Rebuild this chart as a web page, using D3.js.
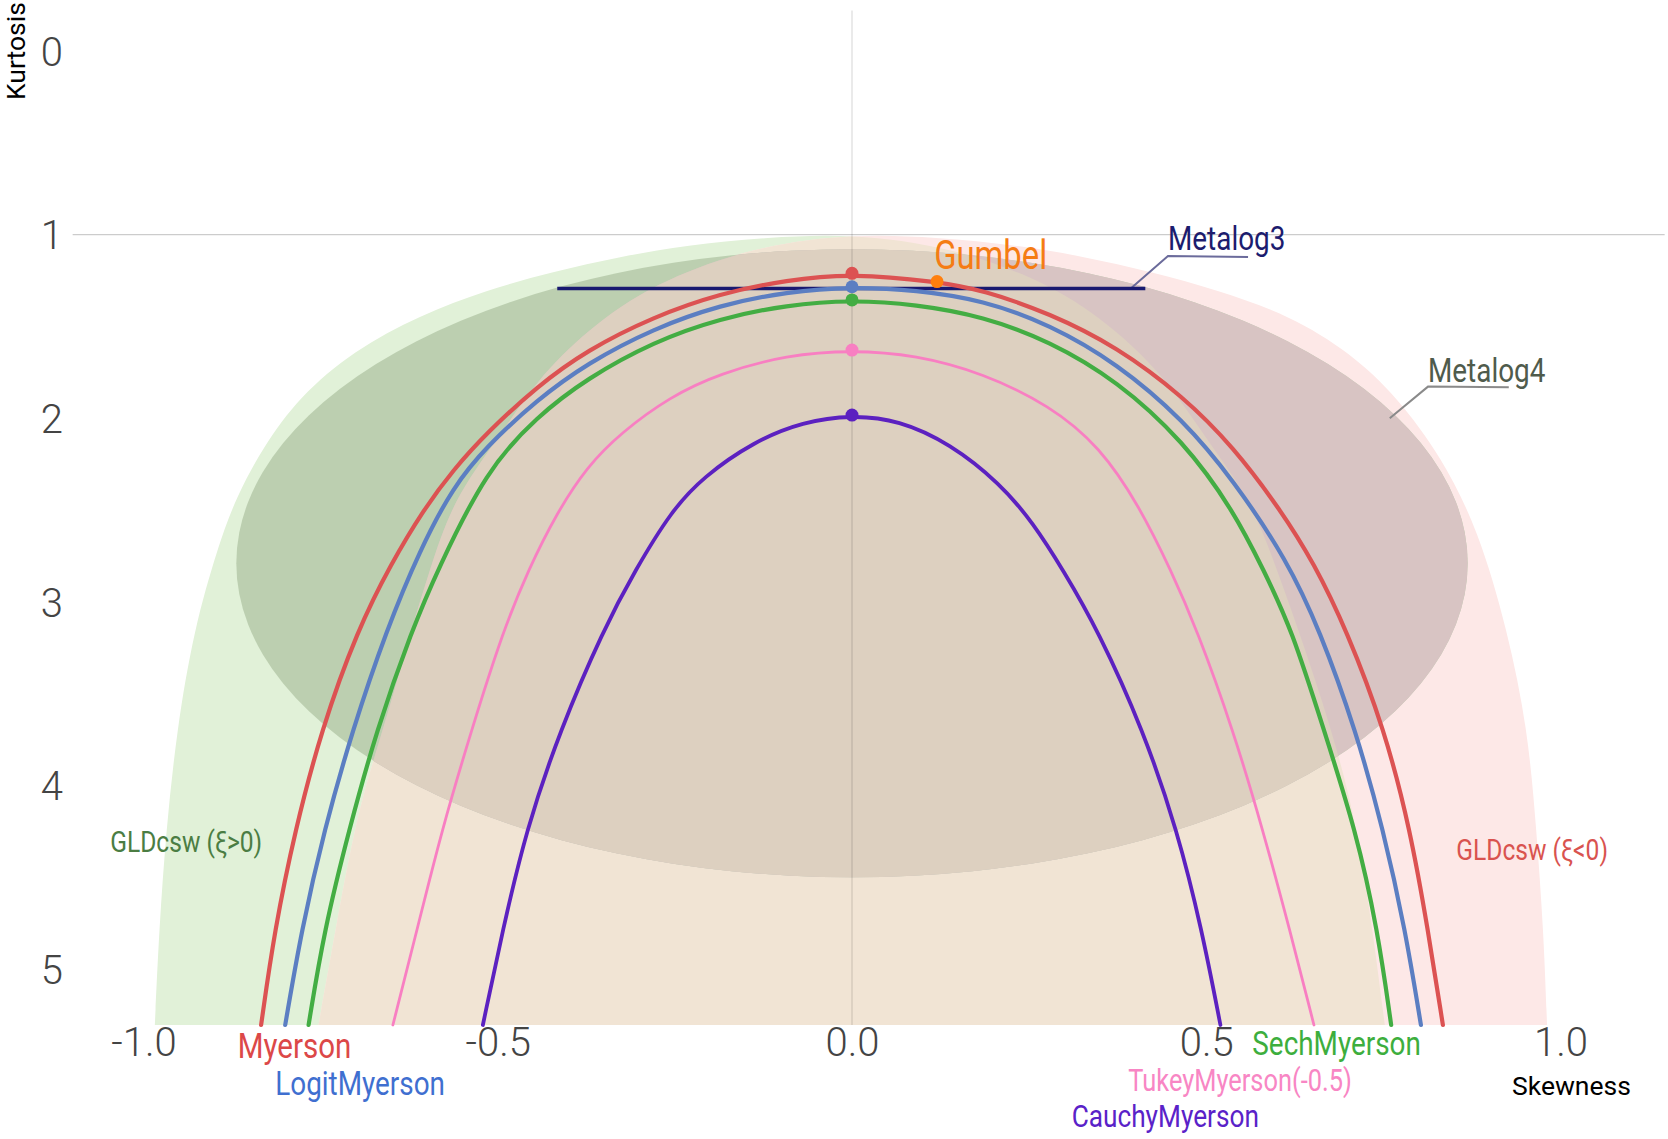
<!DOCTYPE html>
<html>
<head>
<meta charset="utf-8">
<script src="https://cdn.jsdelivr.net/npm/d3@7"></script>
<style>
  body { margin: 0; background: #fff; }
  svg { display: block; }
</style>
</head>
<body>
<div id="chart"></div>
<script>
// Skewness / kurtosis points: [skew, kurt]
const myerson = [
  [-0.834,5.305],[-0.815,4.788],[-0.786,4.243],[-0.749,3.698],[-0.698,3.153],[-0.650,2.789],
  [-0.605,2.500],[-0.563,2.282],[-0.516,2.082],[-0.445,1.828],[-0.374,1.629],[-0.280,1.447],
  [-0.186,1.320],[-0.092,1.247],[0,1.211],[0.120,1.256],[0.185,1.302],[0.279,1.429],
  [0.374,1.611],[0.468,1.883],[0.538,2.155],[0.605,2.500],[0.652,2.789],[0.698,3.153],
  [0.752,3.698],[0.788,4.243],[0.813,4.788],[0.834,5.305]
];
const logitMyerson = [
  [-0.800,5.305],[-0.777,4.788],[-0.745,4.243],[-0.705,3.698],[-0.657,3.153],[-0.610,2.718],
  [-0.563,2.373],[-0.516,2.155],[-0.445,1.901],[-0.374,1.701],[-0.280,1.511],[-0.186,1.383],
  [-0.092,1.311],[0,1.284],[0.090,1.302],[0.185,1.357],[0.279,1.490],[0.374,1.701],
  [0.468,2.010],[0.538,2.336],[0.614,2.772],[0.660,3.153],[0.711,3.698],[0.750,4.243],
  [0.781,4.788],[0.803,5.305]
];
const sechMyerson = [
  [-0.767,5.305],[-0.745,4.788],[-0.710,4.243],[-0.671,3.698],[-0.621,3.153],[-0.585,2.827],
  [-0.516,2.282],[-0.445,1.992],[-0.374,1.783],[-0.280,1.583],[-0.186,1.456],[-0.092,1.383],
  [0,1.356],[0.090,1.380],[0.185,1.445],[0.279,1.580],[0.374,1.795],[0.468,2.125],
  [0.538,2.500],[0.581,2.827],[0.621,3.153],[0.666,3.698],[0.711,4.243],[0.742,4.788],
  [0.761,5.305]
];
const tukeyMyerson = [
  [-0.648,5.305],[-0.614,4.788],[-0.579,4.243],[-0.537,3.698],[-0.492,3.153],[-0.457,2.827],
  [-0.417,2.518],[-0.374,2.264],[-0.327,2.082],[-0.257,1.883],[-0.186,1.755],[-0.092,1.656],
  [0,1.629],[0.090,1.656],[0.185,1.755],[0.279,1.930],[0.350,2.155],[0.406,2.482],
  [0.450,2.827],[0.487,3.153],[0.538,3.698],[0.580,4.243],[0.618,4.788],[0.652,5.305]
];
const cauchyMyerson = [
  [-0.521,5.305],[-0.493,4.788],[-0.460,4.243],[-0.412,3.698],[-0.351,3.153],[-0.306,2.827],
  [-0.254,2.500],[-0.210,2.320],[-0.139,2.128],[-0.069,2.019],[0,1.983],[0.066,2.010],
  [0.138,2.137],[0.209,2.355],[0.256,2.572],[0.298,2.827],[0.347,3.153],[0.411,3.698],
  [0.459,4.243],[0.494,4.788],[0.520,5.305]
];

// GLDcsw regions: outer boundary bottom -> top, then inner boundary top -> bottom
const gldPositive = [
  [-0.984,5.305],[-0.978,4.788],[-0.968,4.243],[-0.953,3.698],[-0.929,3.153],[-0.895,2.700],
  [-0.869,2.428],[-0.831,2.155],[-0.780,1.883],[-0.703,1.630],[-0.610,1.440],[-0.516,1.302],
  [-0.422,1.202],[-0.327,1.120],[-0.233,1.057],[-0.120,1.015],[0,0.995],
  [0.139,1.066],[0.280,1.264],[0.374,1.520],[0.445,1.792],[0.501,2.119],[0.563,2.445],
  [0.600,2.827],[0.630,3.153],[0.662,3.517],[0.690,3.878],[0.713,4.243],[0.735,4.788],
  [0.752,5.305]
];
const gldNegative = [
  [0.981,5.305],[0.976,4.788],[0.966,4.243],[0.954,3.698],[0.925,3.153],[0.884,2.609],
  [0.832,2.210],[0.769,1.883],[0.704,1.645],[0.618,1.440],[0.516,1.302],[0.422,1.202],
  [0.327,1.120],[0.233,1.057],[0.120,1.015],[0,0.995],
  [-0.139,1.066],[-0.280,1.264],[-0.374,1.520],[-0.445,1.792],[-0.501,2.119],[-0.563,2.445],
  [-0.596,2.827],[-0.622,3.153],[-0.648,3.517],[-0.677,3.878],[-0.703,4.243],[-0.729,4.788],
  [-0.753,5.305]
];

// Metalog4 feasible region (ellipse: centre and half-axes) and Metalog3 segment
const metalog4Center = [0, 2.79];
const metalog4Radii = [0.869, 1.71];
const metalog3 = [[-0.416,1.293],[0.414,1.293]];
const gumbel = [0.12, 1.256];

// Leader lines for the Metalog labels
const metalog3Leader = [[0.395,1.288],[0.446,1.117],[0.559,1.122]];
const metalog4Leader = [[0.759,2.0],[0.813,1.828],[0.927,1.831]];

// Axes
const xTicks = [-1, -0.5, 0, 0.5, 1];
const yTicks = [0, 1, 2, 3, 4, 5];
const kurtBottom = 5.305;

// Labels (anchor = left end of baseline, in data units)
const labelText = ["Myerson","LogitMyerson","SechMyerson","TukeyMyerson(-0.5)","CauchyMyerson",
  "Gumbel","Metalog3","Metalog4","GLDcsw (\u03be>0)","GLDcsw (\u03be<0)"];
const labelSkew = [-0.867,-0.814,0.565,0.390,0.310,0.116,0.446,0.813,-1.047,0.853];
const labelKurt = [5.485,5.686,5.468,5.665,5.861,1.187,1.084,1.801,4.361,4.406];

// styles
const curveStyle = [
  {data: myerson,       color: "#dc5252", width: 4.2},
  {data: logitMyerson,  color: "#5b7ec2", width: 4.2},
  {data: sechMyerson,   color: "#43ad43", width: 4.2},
  {data: tukeyMyerson,  color: "#f87fc2", width: 2.8},
  {data: cauchyMyerson, color: "#5c21c0", width: 3.8}
];
const labelStyle = [
  {size: 36, color: "#dc4848"},
  {size: 34, color: "#3f6fd0"},
  {size: 34, color: "#3dae3d"},
  {size: 31, color: "#f886c4"},
  {size: 32, color: "#5a22c8"},
  {size: 40, color: "#f57c14"},
  {size: 34, color: "#1c1c6e"},
  {size: 34, color: "#4f5b4c"},
  {size: 30, color: "#4b7d43"},
  {size: 30, color: "#d9534f"}
];
const condense = 0.82;

const width = 1668, height = 1139;
const x = d3.scaleLinear().domain([-1, 1]).range([143.5, 1560.5]);
const y = d3.scaleLinear().domain([0, 5]).range([51, 969]);

const svg = d3.select("#chart").append("svg")
  .attr("width", width)
  .attr("height", height)
  .style("background", "#fff");

const defs = svg.append("defs");
const line = d3.line().x(d => x(d[0])).y(d => y(d[1]));
const smooth = d3.line().x(d => x(d[0])).y(d => y(d[1])).curve(d3.curveBasis);
const region = d => smooth(d) + "Z";

defs.append("clipPath").attr("id", "clipPos").append("path").attr("d", region(gldPositive));
defs.append("clipPath").attr("id", "clipNeg").append("path").attr("d", region(gldNegative));

// Regions
svg.append("path").attr("d", region(gldPositive)).attr("fill", "#e1f1d8");
svg.append("path").attr("d", region(gldNegative)).attr("fill", "#fde8e7");
svg.append("g").attr("clip-path", "url(#clipPos)")
  .append("path").attr("d", region(gldNegative)).attr("fill", "#f1e4d4");

// Metalog4 ellipse, tinted per underlying region
const ell = g => g.append("ellipse")
  .attr("cx", x(metalog4Center[0]))
  .attr("cy", y(metalog4Center[1]))
  .attr("rx", x(metalog4Radii[0]) - x(0))
  .attr("ry", y(metalog4Radii[1]) - y(0));
ell(svg).attr("fill", "#bccfb0");
ell(svg.append("g").attr("clip-path", "url(#clipNeg)")).attr("fill", "#d8c4c3");
ell(svg.append("g").attr("clip-path", "url(#clipPos)").append("g").attr("clip-path", "url(#clipNeg)"))
  .attr("fill", "#ddd0c0");

// Reference lines at skew 0 and kurtosis 1
svg.append("line")
  .attr("x1", x(-1.10)).attr("x2", x(1.147))
  .attr("y1", y(1)).attr("y2", y(1))
  .attr("stroke", "#000").attr("stroke-opacity", 0.2).attr("stroke-width", 1.3);
svg.append("line")
  .attr("x1", x(0)).attr("x2", x(0))
  .attr("y1", y(-0.22)).attr("y2", y(kurtBottom))
  .attr("stroke", "#000").attr("stroke-opacity", 0.13).attr("stroke-width", 1.3);

// Axes
const fmt = d => d.toFixed(1);
const xAxis = svg.append("g")
  .attr("transform", `translate(0,${y(kurtBottom)})`)
  .call(d3.axisBottom(x).tickValues(xTicks).tickSize(0).tickPadding(3).tickFormat(fmt));
const yAxis = svg.append("g")
  .attr("transform", `translate(66,0)`)
  .call(d3.axisLeft(y).tickValues(yTicks).tickSize(0).tickPadding(3).tickFormat(d3.format("d")));
[xAxis, yAxis].forEach(g => {
  g.select(".domain").remove();
  g.selectAll("text")
    .attr("font-family", "Roboto, sans-serif")
    .attr("font-size", 40)
    .attr("font-weight", 300)
    .attr("fill", "#444");
});
yAxis.selectAll("text").attr("dy", "0.355em");

svg.append("text")
  .attr("transform", "translate(25,100) rotate(-90)")
  .attr("font-family", "Roboto, sans-serif")
  .attr("font-size", 26.5)
  .attr("fill", "#000")
  .text("Kurtosis");
svg.append("text")
  .attr("x", 1512).attr("y", 1095)
  .attr("font-family", "Roboto, sans-serif")
  .attr("font-size", 26.5)
  .attr("fill", "#000")
  .text("Skewness");

// Leader lines
svg.append("path").datum(metalog3Leader).attr("d", line)
  .attr("fill", "none").attr("stroke", "#6b6b9b").attr("stroke-width", 2);
svg.append("path").datum(metalog4Leader).attr("d", line)
  .attr("fill", "none").attr("stroke", "#8a8a8a").attr("stroke-width", 2);

// Metalog3 segment
svg.append("path").datum(metalog3).attr("d", line)
  .attr("fill", "none").attr("stroke", "#191970").attr("stroke-width", 3.5);

// Curves
curveStyle.forEach(c => {
  svg.append("path").datum(c.data).attr("d", smooth)
    .attr("fill", "none").attr("stroke", c.color)
    .attr("stroke-width", c.width).attr("stroke-linecap", "round");
});
// Symmetric point of each curve
curveStyle.forEach(c => {
  const p = c.data.find(d => d[0] === 0);
  svg.append("circle").attr("cx", x(p[0])).attr("cy", y(p[1])).attr("r", 6.5).attr("fill", c.color);
});
svg.append("circle").attr("cx", x(gumbel[0])).attr("cy", y(gumbel[1])).attr("r", 6.5).attr("fill", "#ff7f0e");

// Labels
labelText.forEach((t, i) => {
  svg.append("text")
    .attr("transform", `translate(${x(labelSkew[i])},${y(labelKurt[i])}) scale(${condense},1)`)
    .attr("font-family", "Roboto, sans-serif")
    .attr("font-size", labelStyle[i].size)
    .attr("fill", labelStyle[i].color)
    .text(t);
});
</script>
</body>
</html>
